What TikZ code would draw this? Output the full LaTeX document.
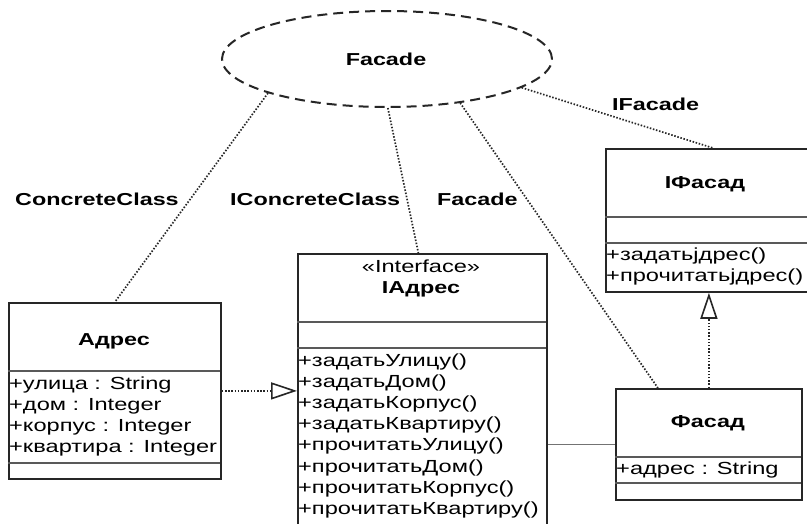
\documentclass[tikz,border=0pt]{standalone}
\usepackage{fontspec}
\setmainfont{Liberation Sans}[FakeStretch=1.35]
\usetikzlibrary{shapes.geometric,arrows.meta}
\begin{document}
\begin{tikzpicture}[x=1pt,y=-1pt,
  every node/.style={font=\fontsize{17.5}{21}\selectfont, text=black},
  box/.style={draw=black!85, line width=1.8pt, rectangle, anchor=north west, inner sep=0pt},
  divline/.style={draw=black!65, line width=1.6pt},
  dotline/.style={draw=black!85, line width=1.7pt, dash pattern=on 1.5pt off 1.7pt},
  realize/.style={dotline, -{Triangle[open, length=26pt, width=17pt, line width=1.6pt]}},
  assoc/.style={draw=black!55, line width=1.6pt},
  txt/.style={anchor=base west, inner sep=0pt},
  ctxt/.style={anchor=base, inner sep=0pt},
  btxt/.style={anchor=base, inner sep=0pt, font=\fontsize{17.3}{21}\selectfont\bfseries}
]
\clip (0,0) rectangle (807,523);
\fill[white] (0,0) rectangle (807,523);

% Ellipse (collaboration)
\node[ellipse, draw=black!85, line width=2pt, dash pattern=on 10pt off 6pt,
      minimum width=330pt, minimum height=96pt, inner sep=0pt] (ell) at (387,59) {};
\node[btxt] (ellt) at (386,65) {Facade};

% Role labels
\node[btxt, anchor=base west] (l1) at (15,205) {ConcreteClass};
\node[btxt, anchor=base west] (l2) at (230,205) {IConcreteClass};
\node[btxt, anchor=base west] (l3) at (437,205) {Facade};
\node[btxt, anchor=base west] (l4) at (612,110) {IFacade};

% Адрес
\node[box, minimum width=212pt, minimum height=176pt] (adr) at (8,302) {};
\draw[divline] (8,371) -- (220,371);
\draw[divline] (8,463) -- (220,463);
\node[btxt] (adrn) at (114,345) {Адрес};
\node[txt] (a1) at (9,389.5) {+улица : String};
\node[txt] (a2) at (9,410.5) {+дом : Integer};
\node[txt] (a3) at (9,431.5) {+корпус : Integer};
\node[txt] (a4) at (9,452.5) {+квартира : Integer};

% IАдрес
\node[box, minimum width=249pt, minimum height=300pt] (iadr) at (297,253) {};
\draw[divline] (297,322) -- (546,322);
\draw[divline] (297,348) -- (546,348);
\node[ctxt] (st) at (421,272) {«Interface»};
\node[btxt] (iadrn) at (421,293) {IАдрес};
\node[txt] (m1) at (298,366) {+задатьУлицу()};
\node[txt] (m2) at (298,387.2) {+задатьДом()};
\node[txt] (m3) at (298,408.4) {+задатьКорпус()};
\node[txt] (m4) at (298,429.6) {+задатьКвартиру()};
\node[txt] (m5) at (298,450.8) {+прочитатьУлицу()};
\node[txt] (m6) at (298,472) {+прочитатьДом()};
\node[txt] (m7) at (298,493.2) {+прочитатьКорпус()};
\node[txt] (m8) at (298,514.4) {+прочитатьКвартиру()};

% IФасад
\node[box, minimum width=210pt, minimum height=143pt] (ifas) at (605,148) {};
\draw[divline] (605,217) -- (815,217);
\draw[divline] (605,243) -- (815,243);
\node[btxt] (ifasn) at (705,188) {IФасад};
\node[txt] (f1) at (606,260) {+задатьjдрес()};
\node[txt] (f2) at (606,281.5) {+прочитатьjдрес()};

% Фасад
\node[box, minimum width=186pt, minimum height=111pt] (fas) at (615,388) {};
\draw[divline] (615,457) -- (801,457);
\draw[divline] (615,483) -- (801,483);
\node[btxt] (fasn) at (708,427) {Фасад};
\node[txt] (fa1) at (616,474) {+адрес : String};

% Connectors
\draw[dotline] (ell.196) -- (adr.north);
\draw[dotline] (ell.271) -- ([xshift=-4pt]iadr.north);
\draw[dotline] (ell.329) -- ([xshift=-51pt]fas.north);
\draw[dotline] (ell.348) -- ([xshift=2pt]ifas.north);
\draw[realize] (adr.east) -- (adr.east -| iadr.west);
\draw[realize] (fas.north) -- (fas.north |- ifas.south);
\draw[assoc] (fas.west -| iadr.east) -- (fas.west);
\end{tikzpicture}
\end{document}
